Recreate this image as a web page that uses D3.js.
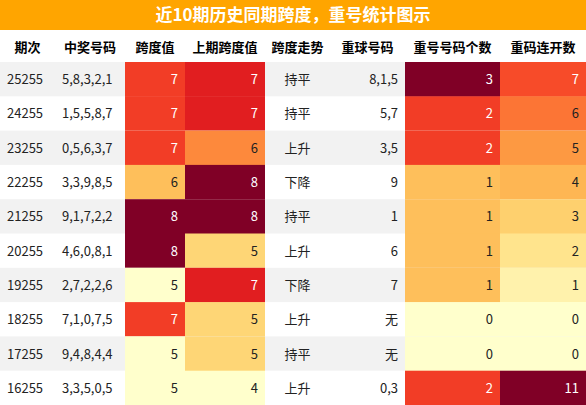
<!DOCTYPE html>
<html><head><meta charset="utf-8">
<script src="https://cdn.jsdelivr.net/npm/d3@7"></script>
<style>body{margin:0;background:#fff}svg{font-family:"Noto Sans CJK SC","Liberation Sans",sans-serif}</style>
</head><body><svg id="c" width="586" height="405"></svg>
<script>
const title = '近10期历史同期跨度，重号统计图示';
const headers = ['期次','中奖号码','跨度值','上期跨度值','跨度走势','重球号码','重号号码个数','重码连开数'];
const periods = ['25255','24255','23255','22255','21255','20255','19255','18255','17255','16255'];
const numbers = ['5,8,3,2,1','1,5,5,8,7','0,5,6,3,7','3,3,9,8,5','9,1,7,2,2','4,6,0,8,1','2,7,2,2,6','7,1,0,7,5','9,4,8,4,4','3,3,5,0,5'];
const spans = [7,7,7,6,8,8,5,7,5,5];
const prevSpans = [7,7,6,8,8,5,7,5,5,4];
const trends = ['持平','持平','上升','下降','持平','上升','下降','上升','持平','上升'];
const repeatNums = ['8,1,5','5,7','3,5','9','1','6','7','无','无','0,3'];
const repeatCount = [3,2,2,1,1,1,1,0,0,2];
const repeatRun = [7,6,5,4,3,2,1,0,0,11];

const svg = d3.select('#c');
const W = 586, titleH = 30, headH = 32, rowH = 34.3;
const colX = [0,55,125,185,265,330,405,500,586];

svg.append('rect').attr('width',W).attr('height',titleH).attr('fill','#FFA500');
svg.append('text').attr('x',W/2).attr('y',21).attr('text-anchor','middle')
  .attr('fill','#fff').attr('font-weight','bold').attr('font-size',17).text(title);

const hAlign = ['start','start','end','end','middle','end','end','end'];
headers.forEach((h,i)=>{
  svg.append('text').attr('x',(colX[i]+colX[i+1])/2).attr('y',titleH+22)
    .attr('text-anchor','middle').attr('font-weight','bold').attr('font-size',13).text(h);
});

const y = d3.scaleBand().domain(periods).range([titleH+headH, titleH+headH+rowH*10]);
const heat = {
  2: d3.scaleSequential(d3.interpolateYlOrRd).domain([5,8]),
  3: d3.scaleSequential(d3.interpolateYlOrRd).domain([4,8]),
  6: d3.scaleSequential(d3.interpolateYlOrRd).domain([0,3]),
  7: d3.scaleSequential(d3.interpolateYlOrRd).domain([0,11])
};
const cols = [periods,numbers,spans,prevSpans,trends,repeatNums,repeatCount,repeatRun];

periods.forEach((p,r)=>{
  const y0 = y(p);
  if (r%2===0) svg.append('rect').attr('x',0).attr('y',y0).attr('width',W).attr('height',y.bandwidth()).attr('fill','#f2f2f2');
  cols.forEach((col,i)=>{
    const v = col[r];
    let fill = null;
    if (heat[i]) {
      fill = heat[i](v);
      svg.append('rect').attr('x',colX[i]).attr('y',y0).attr('width',colX[i+1]-colX[i])
        .attr('height',y.bandwidth()+0.5).attr('fill',fill);
    }
    const dark = fill && d3.lab(fill).l < 60;
    const a = hAlign[i];
    const x = a==='start' ? colX[i]+7 : a==='end' ? colX[i+1]-7 : (colX[i]+colX[i+1])/2;
    svg.append('text').attr('x',x).attr('y',y0+y.bandwidth()/2+5).attr('text-anchor',a)
      .attr('font-size',13).attr('fill',dark?'#fff':'#222').text(v);
  });
});
</script></body></html>
